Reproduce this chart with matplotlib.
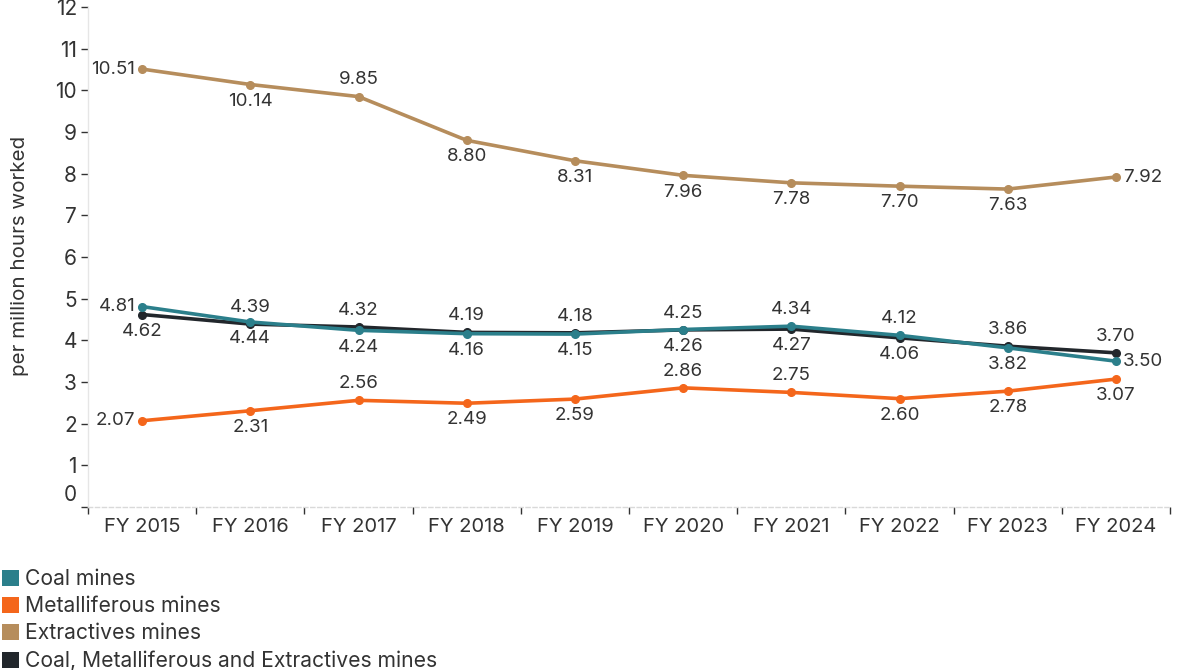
import matplotlib
matplotlib.use("Agg")
import matplotlib.pyplot as plt
import matplotlib.transforms as mtransforms
from matplotlib.patches import Patch

plt.rcParams['font.family'] = ['Inter', 'DejaVu Sans']

years = ["FY 2015", "FY 2016", "FY 2017", "FY 2018", "FY 2019",
         "FY 2020", "FY 2021", "FY 2022", "FY 2023", "FY 2024"]

coal = [4.81, 4.44, 4.24, 4.16, 4.15, 4.26, 4.34, 4.12, 3.82, 3.50]
metalliferous = [2.07, 2.31, 2.56, 2.49, 2.59, 2.86, 2.75, 2.60, 2.78, 3.07]
extractives = [10.51, 10.14, 9.85, 8.80, 8.31, 7.96, 7.78, 7.70, 7.63, 7.92]
combined = [4.62, 4.39, 4.32, 4.19, 4.18, 4.25, 4.27, 4.06, 3.86, 3.70]

series_names = ["Coal mines", "Metalliferous mines", "Extractives mines",
                "Coal, Metalliferous and Extractives mines"]
colors = ["#2b7f8b", "#f4661b", "#b68d5c", "#22272c"]

# label placement per point: a=above, b=below, l=left, r=right
coal_pos = ["l", "b", "b", "b", "b", "b", "a", "a", "b", "r"]
metal_pos = ["l", "b", "a", "b", "b", "a", "a", "b", "b", "b"]
extr_pos = ["l", "b", "a", "b", "b", "b", "b", "b", "b", "r"]
comb_pos = ["b", "a", "a", "a", "a", "a", "b", "b", "a", "a"]

text_color = "#333333"

fig = plt.figure(figsize=(11.83, 6.70), dpi=100)
ax = fig.add_axes([88 / 1183, 1 - 507 / 670, (1170 - 88) / 1183, 500 / 670])

x = list(range(len(years)))
data = [(combined, colors[3], comb_pos, 3),
        (extractives, colors[2], extr_pos, 3),
        (metalliferous, colors[1], metal_pos, 3),
        (coal, colors[0], coal_pos, 4)]

for vals, col, pos, z in data:
    ax.plot(x, vals, color=col, lw=2.6, marker="o", ms=5.5, zorder=z,
            solid_capstyle="round")
    for xi, v, p in zip(x, vals, pos):
        if p == "a":
            off, ha, va = (0, 12), "center", "center"
        elif p == "b":
            off, ha, va = (0, -12), "center", "center"
        elif p == "l":
            off, ha, va = (-5, 0), "right", "center"
        else:
            off, ha, va = (5, 0), "left", "center"
        ax.annotate(f"{v:.2f}", (xi, v), xytext=off, textcoords="offset points",
                    ha=ha, va=va, fontsize=13.5, color=text_color, zorder=6)

ax.set_xlim(-0.5, len(years) - 0.5)
ax.set_ylim(0, 12)
ax.set_yticks(range(0, 13))
ax.set_yticklabels([str(i) for i in range(0, 13)])

# x ticks at band boundaries, labels at band centres
ax.set_xticks([i - 0.5 for i in range(len(years) + 1)])
ax.set_xticklabels([])
ax.set_xticks(x, minor=True)
ax.set_xticklabels(years, minor=True)
ax.tick_params(axis="x", which="minor", length=0, pad=8, labelsize=14.5,
               labelcolor=text_color)
ax.tick_params(axis="x", which="major", length=5, width=1, color="#333333",
               direction="out")
ax.tick_params(axis="y", length=5, width=1, color="#333333", pad=3,
               labelsize=15, labelcolor=text_color)

# lift the zero label clear of the x axis
zero_lbl = ax.get_yticklabels()[0]
zero_lbl.set_transform(zero_lbl.get_transform() +
                       mtransforms.ScaledTranslation(0, 14 / 100, fig.dpi_scale_trans))

for s in ["top", "right"]:
    ax.spines[s].set_visible(False)
ax.spines["left"].set_color("#e6e6e6")
ax.spines["left"].set_linewidth(1)
ax.spines["bottom"].set_color("#d9d9d9")
ax.spines["bottom"].set_linestyle((0, (3, 2)))
ax.spines["bottom"].set_linewidth(1)

fig.text(20 / 1183, 1 - 256 / 670, "per million hours worked", rotation=90,
         ha="center", va="center", fontsize=14.8, color=text_color)

handles = [Patch(facecolor=c, edgecolor="none") for c in colors]
fig.legend(handles, series_names, loc="upper left",
           bbox_to_anchor=(2 / 1183, 1 - 569 / 670), frameon=False,
           fontsize=15.2, labelcolor=text_color, handlelength=0.8,
           handleheight=0.8, handletextpad=0.3, labelspacing=0.34,
           borderaxespad=0, borderpad=0)

fig.savefig("out.png", dpi=100)
